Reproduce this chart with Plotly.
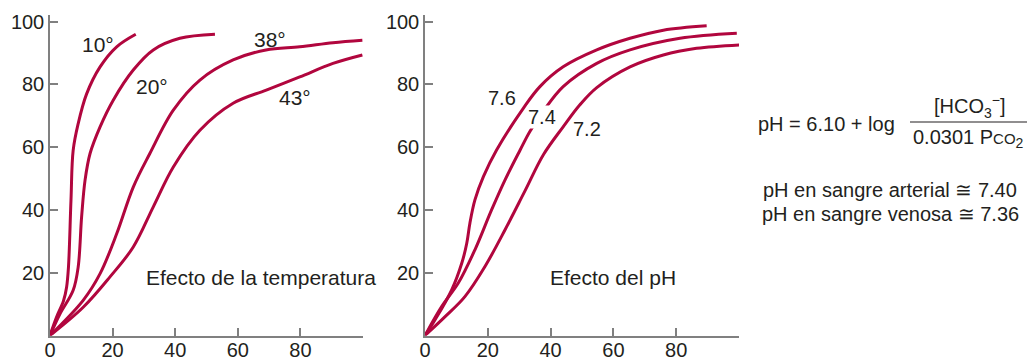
import plotly.graph_objects as go

W, H = 1031, 359
RED = "#b1063e"
TXT = "#231f20"
AX = "#808080"

# Temperature panel (x: PO2, y: saturation %)
t10_x = [0, 2.1, 4.3, 5.3, 5.9, 6.7, 7.4, 9.0, 11.7, 16.0, 21.3, 27.4]
t10_y = [0, 5.9, 11.0, 15.4, 21.8, 43.0, 59.0, 67.5, 77.0, 85.6, 92.0, 96.0]
t20_x = [0, 3.2, 7.4, 9.0, 10.1, 11.2, 12.8, 16.0, 20.2, 26.6, 33.0, 41.5, 52.7]
t20_y = [0, 6.9, 14.4, 21.8, 37.8, 49.5, 58.0, 66.5, 75.0, 84.6, 91.0, 94.7, 96.0]
t38_x = [0, 10.6, 16.0, 21.3, 26.6, 31.9, 39.4, 47.9, 58.5, 69.0, 79.8, 90.4, 99.8]
t38_y = [0, 11.2, 19.7, 32.4, 47.3, 58.0, 71.8, 81.4, 87.8, 91.0, 92.0, 93.3, 94.1]
t43_x = [0, 10.6, 19.1, 26.6, 33.0, 39.4, 47.9, 58.5, 69.1, 79.8, 90.4, 99.8]
t43_y = [0, 9.0, 18.6, 28.2, 41.0, 53.7, 65.4, 74.0, 78.2, 82.4, 86.7, 89.4]

# pH panel
p76_x = [0, 3.2, 8.5, 11.7, 13.3, 14.3, 15.9, 18.6, 22.8, 31.3, 36.6, 44.0, 54.7, 65.3, 75.9, 89.7]
p76_y = [0, 5.0, 14.5, 23.0, 29.4, 35.8, 43.2, 50.6, 59.1, 72.4, 79.3, 85.6, 91.0, 94.7, 97.3, 98.7]
p74_x = [0, 5.3, 10.6, 15.9, 21.2, 25.5, 30.3, 33.4, 37.7, 44.0, 54.7, 65.3, 81.2, 99.3]
p74_y = [0, 9.2, 16.7, 27.3, 40.0, 49.6, 59.1, 65.0, 71.5, 79.3, 86.7, 91.0, 94.7, 96.3]
p72_x = [0, 6.4, 12.7, 19.1, 25.5, 31.8, 37.7, 44.0, 49.4, 54.7, 65.3, 75.9, 86.5, 100.3]
p72_y = [0, 6.0, 12.4, 22.0, 33.7, 46.0, 57.6, 66.5, 73.6, 79.0, 85.6, 89.4, 91.5, 92.6]

x_ticks = [0, 20, 40, 60, 80, 100]
x_ticktext = ["0", "20", "40", "60", "80", ""]
y_ticks = [20, 40, 60, 80, 100]
y_ticktext = ["20", "40", "60", "80", "100"]

fig = go.Figure()

def add_curve(x, y, xa, ya):
    fig.add_trace(go.Scatter(x=x, y=y, mode="lines", xaxis=xa, yaxis=ya,
                             line=dict(color=RED, width=3, shape="spline", smoothing=1.0),
                             showlegend=False, hoverinfo="skip"))

for cx, cy in [(t10_x, t10_y), (t20_x, t20_y), (t38_x, t38_y), (t43_x, t43_y)]:
    add_curve(cx, cy, "x", "y")
for cx, cy in [(p76_x, p76_y), (p74_x, p74_y), (p72_x, p72_y)]:
    add_curve(cx, cy, "x2", "y2")

def px_x(p):
    return p / W

def px_y(p):
    return 1 - p / H

FAM = "Liberation Sans, Arial, Helvetica"
ydom = [px_y(335.5), px_y(15.4)]
axis_common = dict(showgrid=False, zeroline=False, showline=True, linecolor=AX, linewidth=1.5,
                   ticks="inside", ticklen=8, tickcolor=AX, tickwidth=1.5, automargin=False,
                   tickfont=dict(family=FAM, size=20, color=TXT))

fig.update_layout(
    width=W, height=H, margin=dict(l=0, r=0, t=0, b=0, autoexpand=False),
    paper_bgcolor="white", plot_bgcolor="white",
    xaxis=dict(domain=[px_x(50), px_x(363)], range=[0, 100], tickvals=x_ticks, ticktext=x_ticktext,
               anchor="y", ticklabelstandoff=-4, **axis_common),
    yaxis=dict(domain=ydom, range=[0, 102], tickvals=y_ticks, ticktext=y_ticktext,
               anchor="x", **axis_common),
    xaxis2=dict(domain=[px_x(425), px_x(739)], range=[0, 100], tickvals=x_ticks, ticktext=x_ticktext,
                anchor="y2", ticklabelstandoff=-4, **axis_common),
    yaxis2=dict(domain=ydom, range=[0, 102], tickvals=y_ticks, ticktext=y_ticktext,
                anchor="x2", **axis_common),
)

FONT = dict(family=FAM, size=21, color=TXT)
FONT_S = dict(family=FAM, size=20, color=TXT)

def ann(text, x, y, xref, yref, font=FONT, bg=None, xanchor="center"):
    d = dict(text=text, x=x, y=y, xref=xref, yref=yref, showarrow=False, font=font,
             xanchor=xanchor, yanchor="middle")
    if bg:
        d["bgcolor"] = bg
        d["borderpad"] = 0
    fig.add_annotation(**d)

ann("10°", 15.4, 92.6, "x", "y")
ann("20°", 32.5, 79.5, "x", "y")
ann("38°", 70.2, 94.3, "x", "y")
ann("43°", 78.2, 75.8, "x", "y")
ann("Efecto de la temperatura", px_x(261), px_y(277), "paper", "paper", font=FONT)

ann("7.6", 24.4, 75.6, "x2", "y2", font=FONT_S)
ann("7.4", 37.3, 69.5, "x2", "y2", font=FONT_S, bg="white")
ann("7.2", 51.5, 65.8, "x2", "y2", font=FONT_S)
ann("Efecto del pH", px_x(613), px_y(277), "paper", "paper", font=FONT)

ann("pH = 6.10 + log", px_x(826), px_y(124), "paper", "paper", font=FONT_S)
ann("[HCO<sub>3</sub><sup>−</sup>]", px_x(970), px_y(107), "paper", "paper", font=FONT_S)
ann("0.0301 P<span style='font-size:15px'>CO</span><sub>2</sub>", px_x(968), px_y(139), "paper", "paper", font=FONT_S)
fig.add_shape(type="line", xref="paper", yref="paper", x0=px_x(910), x1=px_x(1027),
              y0=px_y(122), y1=px_y(122), line=dict(color=TXT, width=1.2))
ann("pH en sangre arterial ≅ 7.40", px_x(890), px_y(190), "paper", "paper", font=FONT_S)
ann("pH en sangre venosa ≅ 7.36", px_x(890), px_y(214), "paper", "paper", font=FONT_S)

fig.write_html("out.html", config={"displayModeBar": False},
               post_script="document.body.style.margin='0';document.body.style.padding='0';"
                           "document.body.style.overflow='hidden';")
